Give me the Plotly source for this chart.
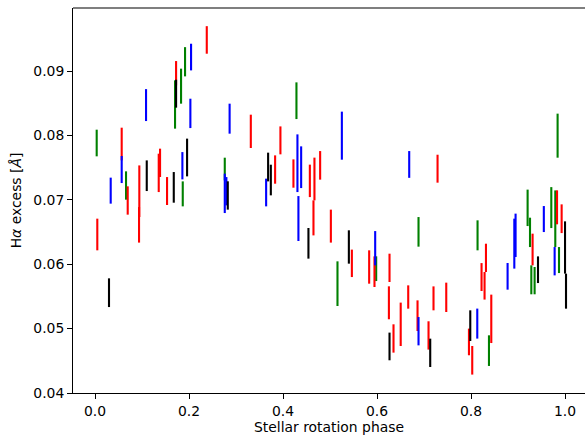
import plotly.graph_objects as go

# H-alpha excess measurements folded on the stellar rotation phase.
# Each instrument/season gets its own colour; values are bar centres
# with symmetric 1-sigma uncertainties.

green_phase = [0.0036, 0.0660, 0.1703, 0.1831, 0.1916, 0.1867, 0.2761, 0.4286,
               0.5159, 0.5982, 0.6883, 0.8139, 0.8382, 0.9204, 0.9255, 0.9283,
               0.9353, 0.9708, 0.9793, 0.9842, 0.9872]
green_value = [0.07883, 0.07223, 0.08481, 0.08766, 0.09145, 0.07093, 0.07479, 0.08540,
               0.05698, 0.05931, 0.06503, 0.06449, 0.04658, 0.06876, 0.06495, 0.05758,
               0.05745, 0.06880, 0.06707, 0.07997, 0.06065]
green_err = [0.00207, 0.00220, 0.00375, 0.00272, 0.00227, 0.00194, 0.00176, 0.00285,
             0.00347, 0.00192, 0.00230, 0.00233, 0.00238, 0.00283, 0.00228, 0.00225,
             0.00212, 0.00318, 0.00440, 0.00342, 0.00202]

red_phase = [0.0049, 0.0568, 0.0696, 0.0943, 0.0937, 0.1356, 0.1384, 0.1533,
             0.1725, 0.2378, 0.3315, 0.3832, 0.3945, 0.4222, 0.4571, 0.4669,
             0.4648, 0.4790, 0.5018, 0.5465, 0.5833, 0.5946, 0.6266, 0.6253,
             0.6351, 0.6504, 0.6664, 0.6862, 0.7096, 0.7202, 0.7288, 0.7473,
             0.7956, 0.8026, 0.8224, 0.8288, 0.8318, 0.8431, 0.9310, 0.9830,
             0.9928]
red_value = [0.06462, 0.07867, 0.06990, 0.07134, 0.06612, 0.07419, 0.07575, 0.07137,
             0.08967, 0.09484, 0.08064, 0.07471, 0.07924, 0.07409, 0.07295, 0.07324,
             0.06720, 0.07536, 0.06592, 0.06014, 0.05957, 0.05884, 0.05944, 0.05401,
             0.04847, 0.05067, 0.05491, 0.05201, 0.04894, 0.05470, 0.07484, 0.05486,
             0.04793, 0.04508, 0.05801, 0.05665, 0.06099, 0.05152, 0.06229, 0.06884,
             0.06707]
red_err = [0.00246, 0.00254, 0.00220, 0.00401, 0.00276, 0.00298, 0.00220, 0.00217,
           0.00189, 0.00214, 0.00259, 0.00220, 0.00217, 0.00220, 0.00252, 0.00332,
           0.00272, 0.00222, 0.00256, 0.00213, 0.00259, 0.00238, 0.00220, 0.00256,
           0.00220, 0.00337, 0.00181, 0.00238, 0.00220, 0.00186, 0.00217, 0.00228,
           0.00207, 0.00222, 0.00217, 0.00214, 0.00220, 0.00376, 0.00246, 0.00264,
           0.00223]

blue_phase = [0.0334, 0.0568, 0.1086, 0.1859, 0.2029, 0.2044, 0.2761, 0.2795,
              0.2864, 0.3641, 0.4307, 0.4386, 0.4328, 0.5252, 0.5961, 0.6685,
              0.6883, 0.8133, 0.8778, 0.8921, 0.8948, 0.9549, 0.9779]
blue_value = [0.07143, 0.07471, 0.08472, 0.07530, 0.08343, 0.09218, 0.07101, 0.07134,
              0.08261, 0.07114, 0.07569, 0.07507, 0.06710, 0.07997, 0.06249, 0.07550,
              0.04960, 0.05078, 0.05812, 0.06320, 0.06449, 0.06702, 0.06047]
blue_err = [0.00202, 0.00210, 0.00248, 0.00212, 0.00228, 0.00207, 0.00306, 0.00220,
            0.00233, 0.00215, 0.00448, 0.00324, 0.00349, 0.00373, 0.00266, 0.00208,
            0.00220, 0.00233, 0.00207, 0.00388, 0.00337, 0.00202, 0.00220]

black_phase = [0.0298, 0.1101, 0.1676, 0.1725, 0.1959, 0.2825, 0.3683, 0.3741,
               0.4541, 0.5401, 0.6266, 0.7132, 0.7984, 0.9425, 1.0000, 1.0021]
black_value = [0.05558, 0.07375, 0.07194, 0.08649, 0.07658, 0.07068, 0.07510, 0.07308,
               0.06325, 0.06268, 0.04723, 0.04624, 0.05046, 0.05915, 0.06260, 0.05582]
black_err = [0.00223, 0.00238, 0.00238, 0.00217, 0.00293, 0.00220, 0.00223, 0.00238,
             0.00238, 0.00259, 0.00215, 0.00220, 0.00238, 0.00207, 0.00406, 0.00272]

x_ticks = [0.0, 0.2, 0.4, 0.6, 0.8, 1.0]
x_tick_labels = ["0.0", "0.2", "0.4", "0.6", "0.8", "1.0"]
y_ticks = [0.04, 0.05, 0.06, 0.07, 0.08, 0.09]
y_tick_labels = ["0.04", "0.05", "0.06", "0.07", "0.08", "0.09"]

series = [
    (green_phase, green_value, green_err, "#008000"),
    (red_phase, red_value, red_err, "#ff0000"),
    (blue_phase, blue_value, blue_err, "#0000ff"),
    (black_phase, black_value, black_err, "#000000"),
]

fig = go.Figure()
for phase, value, err, colour in series:
    fig.add_trace(go.Scatter(
        x=phase, y=value, mode="markers",
        marker=dict(size=1, opacity=0),
        error_y=dict(type="data", array=err, visible=True,
                     width=0, thickness=2.1, color=colour),
        showlegend=False, hoverinfo="skip",
    ))

font = dict(family="DejaVu Sans", size=13.9, color="#000000")
axis_common = dict(
    showgrid=False, zeroline=False, showline=True, linecolor="#000000",
    linewidth=1.1, ticks="outside", ticklen=4.9, tickwidth=1.1,
    tickcolor="#000000", tickfont=font, mirror=False,
)

fig.update_layout(
    width=585, height=436,
    margin=dict(l=73, r=0, t=8, b=43),
    paper_bgcolor="white", plot_bgcolor="white",
    font=font,
    xaxis=dict(range=[-0.0468, 1.0425], tickvals=x_ticks, ticktext=x_tick_labels,
               title=dict(text="Stellar rotation phase", font=font, standoff=4),
               **axis_common),
    yaxis=dict(range=[0.0400, 0.0998], tickvals=y_ticks, ticktext=y_tick_labels,
               title=dict(text="H<i>α</i> excess [<i>Å</i>]", font=font, standoff=8),
               **axis_common),
    shapes=[dict(type="line", xref="paper", yref="paper", x0=0, x1=1, y0=1, y1=1,
                 line=dict(color="#000000", width=1.1))],
)

fig.write_html("out.html")
